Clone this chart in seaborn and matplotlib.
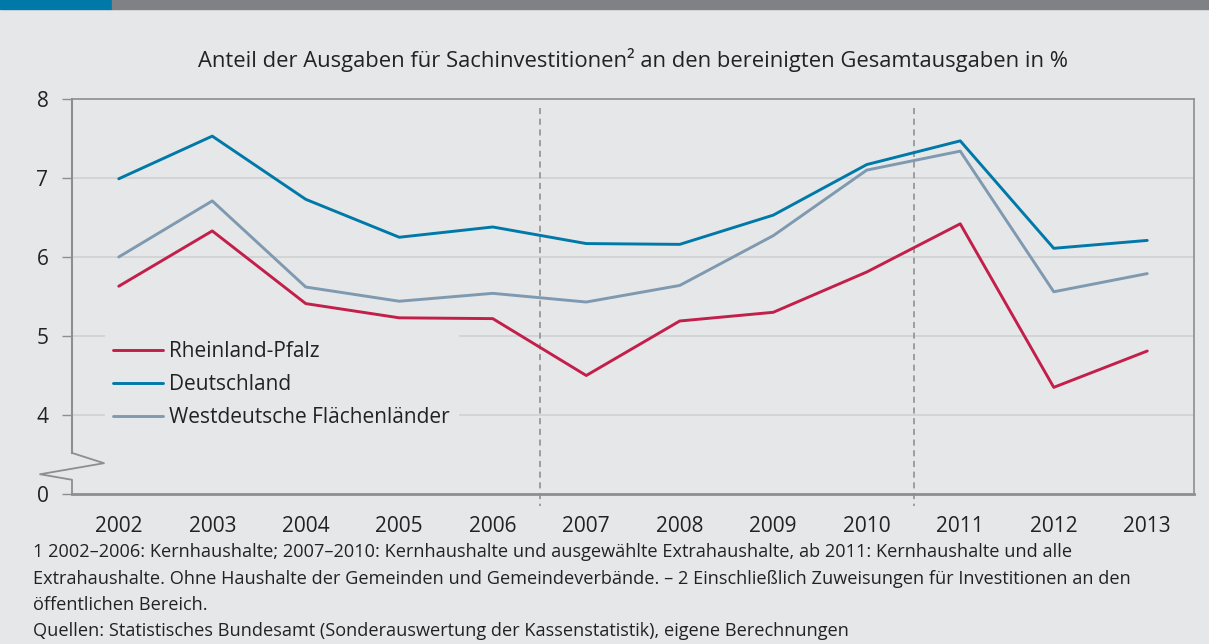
import pandas as pd
import matplotlib
matplotlib.use("Agg")
import matplotlib.pyplot as plt
import matplotlib.transforms as mtrans
from matplotlib.patches import Rectangle
import seaborn as sns

# data
years = ["2002", "2003", "2004", "2005", "2006", "2007",
         "2008", "2009", "2010", "2011", "2012", "2013"]
rheinland_pfalz = [5.63, 6.33, 5.41, 5.23, 5.22, 4.50, 5.19, 5.30, 5.81, 6.42, 4.35, 4.81]
deutschland = [6.99, 7.53, 6.73, 6.25, 6.38, 6.17, 6.16, 6.53, 7.17, 7.47, 6.11, 6.21]
westdeutsche = [6.00, 6.71, 5.62, 5.44, 5.54, 5.43, 5.64, 6.27, 7.10, 7.34, 5.56, 5.79]
series_names = ["Rheinland-Pfalz", "Deutschland", "Westdeutsche Flächenländer"]
colors = ["#c21f4b", "#0079a9", "#7f9ab0"]
ytick_vals = [3, 4, 5, 6, 7, 8]   # 3 is where the broken axis shows 0
ytick_labels = ["0", "4", "5", "6", "7", "8"]

title = "Anteil der Ausgaben für Sachinvestitionen² an den bereinigten Gesamtausgaben in %"
footer = [
    "1 2002–2006: Kernhaushalte; 2007–2010: Kernhaushalte und ausgewählte Extrahaushalte, ab 2011: Kernhaushalte und alle",
    "Extrahaushalte. Ohne Haushalte der Gemeinden und Gemeindeverbände. – 2 Einschließlich Zuweisungen für Investitionen an den",
    "öffentlichen Bereich.",
    "Quellen: Statistisches Bundesamt (Sonderauswertung der Kassenstatistik), eigene Berechnungen",
]

df = pd.DataFrame({
    "pos": list(range(len(years))) * 3,
    "wert": rheinland_pfalz + deutschland + westdeutsche,
    "reihe": [n for n in series_names for _ in years],
})

bg = "#e6e7e9"
grey = "#8e8e90"
sns.set_style("white")
plt.rcParams["font.family"] = ["Open Sans", "DejaVu Sans"]

fig = plt.figure(figsize=(12.09, 6.44), dpi=100, facecolor=bg)
ax = fig.add_axes([72 / 1209, 1 - 494 / 644, 1122 / 1209, 395 / 644])
ax.set_facecolor(bg)

# top colour band
fig.patches.append(Rectangle((0, 1 - 9 / 644), 112 / 1209, 9 / 644,
                             transform=fig.transFigure, color="#0079a9", zorder=5))
fig.patches.append(Rectangle((112 / 1209, 1 - 9 / 644), 1, 9 / 644,
                             transform=fig.transFigure, color="#808185", zorder=5))

for v in [4, 5, 6, 7]:
    ax.axhline(v, color="#d0d1d3", lw=1.2, zorder=1)

sns.lineplot(data=df, x="pos", y="wert", hue="reihe", palette=colors,
             hue_order=series_names, lw=2.1, ax=ax, zorder=3)

ax.set_xlim(-0.5, 11.5)
ax.set_ylim(3, 8)
ax.set_xticks(range(len(years)))
ax.set_xticklabels(years, fontsize=15, color="#222222")
ax.set_xticks([i - 0.5 for i in range(len(years) + 1)], minor=True)
ax.tick_params(axis="x", which="major", length=0, pad=16)
ax.tick_params(axis="x", which="minor", length=7, width=1, color=grey, direction="out")
ax.set_yticks(ytick_vals)
ax.set_yticklabels(ytick_labels, fontsize=15, color="#222222")
ax.tick_params(axis="y", length=7, width=1, color=grey, pad=10, left=True)
ax.set_xlabel("")
ax.set_ylabel("")

for s in ["top", "right"]:
    ax.spines[s].set_color(grey)
    ax.spines[s].set_linewidth(1.2)
ax.spines["bottom"].set_color(grey)
ax.spines["bottom"].set_linewidth(2)
ax.spines["left"].set_color(grey)
ax.spines["left"].set_linewidth(1.5)
ax.spines["left"].set_bounds(3.52, 8)

# axis break zigzag
bt = mtrans.blended_transform_factory(ax.transAxes, ax.transData)
ax.plot([0, 0.0285, -0.0285, 0, 0], [3.52, 3.39, 3.25, 3.18, 3.0],
        color=grey, lw=1.3, transform=bt, clip_on=False, zorder=4)

# period separators
bx = mtrans.blended_transform_factory(ax.transData, ax.transAxes)
for xv in [4.5, 8.5]:
    ax.plot([xv, xv], [0.977, -0.03], color="#8a8a8a", lw=1.1,
            ls=(0, (4, 3)), transform=bx, clip_on=False, zorder=2)

leg = ax.legend(loc="upper left", bbox_to_anchor=(0.02, 0.435), frameon=True,
                fontsize=15, handlelength=2.4, handletextpad=0.3, labelspacing=0.58,
                borderpad=0.4)
leg.get_frame().set_facecolor(bg)
leg.get_frame().set_edgecolor(bg)
leg.get_frame().set_alpha(1)
for line in leg.get_lines():
    line.set_linewidth(2.1)
for t in leg.get_texts():
    t.set_color("#222222")

fig.text((72 + 1194) / 2 / 1209, 1 - 60 / 644, title, ha="center", va="center",
         fontsize=15.8, color="#222222")

for i, line in enumerate(footer):
    fig.text(33 / 1209, 1 - (552 + i * 26.5) / 644, line, ha="left", va="center",
             fontsize=13.1, color="#222222")

fig.savefig("out.png", dpi=100, facecolor=bg)
